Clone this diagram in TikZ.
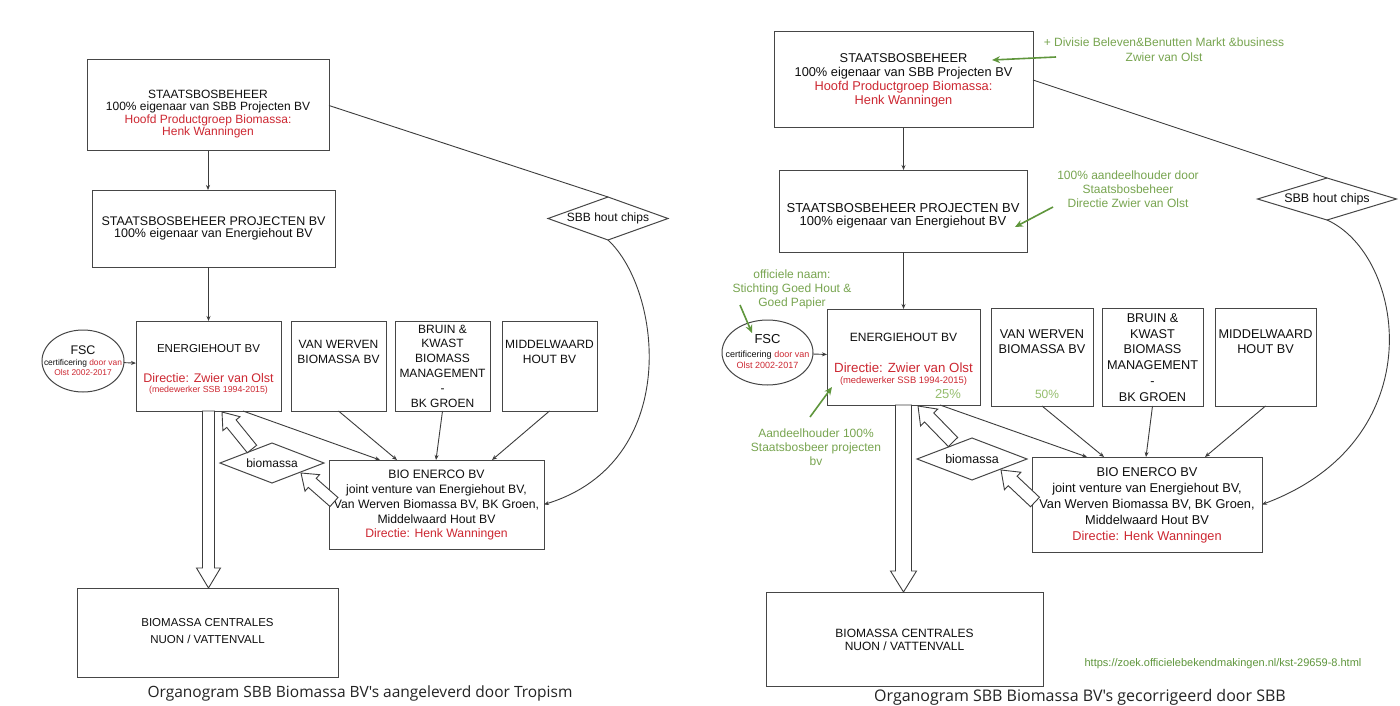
\documentclass[tikz,border=0pt]{standalone}
\usepackage{fontspec}
\setmainfont{Liberation Sans}
\newfontfamily\capfont{Open Sans}
\usetikzlibrary{shapes.geometric,arrows.meta,calc}
\definecolor{boxc}{RGB}{70,70,70}
\definecolor{linec}{RGB}{60,60,60}
\definecolor{txtc}{RGB}{15,15,15}
\definecolor{redc}{RGB}{205,40,50}
\definecolor{garrc}{RGB}{95,150,60}
\definecolor{gtxt}{RGB}{120,165,80}
\definecolor{gpale}{RGB}{150,190,110}
\definecolor{capc}{RGB}{35,35,35}
\newcommand{\myfs}[2]{\fontsize{#1}{#2}\selectfont}
% hollow arrow: #1 tail, #2 tip, #3 shaft half width, #4 head half width, #5 head length
\newcommand{\hollowarr}[5]{%
  \path ($(#2)!#5!(#1)$) coordinate (hac);
  \draw[hollowst] ($(#1)!#3!90:(#2)$) -- ($(hac)!#3!-90:(#1)$) -- ($(hac)!#4!-90:(#1)$) -- (#2)
     -- ($(hac)!#4!90:(#1)$) -- ($(hac)!#3!90:(#1)$) -- ($(#1)!#3!-90:(#2)$) -- cycle;}
\begin{document}
\begin{tikzpicture}[x=1pt,y=-1pt,
  box/.style={draw=boxc, line width=1pt, inner sep=0pt, outer sep=0pt},
  ell/.style={draw=boxc, line width=1pt, ellipse, inner sep=0pt, outer sep=0pt},
  dia/.style={draw=boxc, line width=1pt, diamond, inner sep=0pt, outer sep=0pt},
  t/.style={inner sep=0pt, align=center, text=txtc},
  gt/.style={inner sep=0pt, align=center, text=gtxt},
  ln/.style={draw=linec, line width=0.9pt},
  arr/.style={draw=linec, line width=0.9pt, -{Stealth[length=5pt,width=4pt]}},
  garr/.style={draw=garrc, line width=1.6pt, -{Stealth[length=8pt,width=7pt]}},
  hollowst/.style={draw=linec, line width=0.9pt, fill=white, line join=miter}]
\fill[white] (0,0) rectangle (1400,706);
\useasboundingbox (0,0) rectangle (1400,706);

%================ LEFT =================
\node[box, minimum width=242pt, minimum height=91pt] (sbbL) at (208,105.5) {};
\node[box, minimum width=243pt, minimum height=77pt] (prjL) at (213.5,228.5) {};
\node[box, minimum width=145pt, minimum height=90pt] (ehL) at (208.5,366) {};
\node[box, minimum width=95pt, minimum height=90pt] (vwL) at (338.5,366) {};
\node[box, minimum width=95pt, minimum height=90pt] (bkL) at (442.5,366) {};
\node[box, minimum width=95pt, minimum height=90pt] (mwL) at (549.5,366) {};
\node[box, minimum width=215pt, minimum height=89pt] (bioL) at (436.5,504.5) {};
\node[box, minimum width=261pt, minimum height=89pt] (cenL) at (207.5,632.5) {};
\node[ell, minimum width=82pt, minimum height=62pt] (fscL) at (83,361) {};
\node[dia, minimum width=120pt, minimum height=43pt] (chipsL) at (608,218.5) {};
\node[dia, minimum width=104pt, minimum height=40pt] (bmL) at (272,463) {};

\node[t, font=\myfs{12}{12.5}] (sbbLt) at (208,114) {STAATSBOSBEHEER\\100\% eigenaar van SBB Projecten BV\\\textcolor{redc}{Hoofd Productgroep Biomassa:}\\\textcolor{redc}{Henk Wanningen}};
\node[t, font=\myfs{12.5}{12}] (prjLt) at (213.5,228) {STAATSBOSBEHEER PROJECTEN BV\\100\% eigenaar van Energiehout BV};
\node[t, font=\myfs{11.5}{12}] (ehLt1) at (208.5,349) {ENERGIEHOUT BV};
\node[t, font=\myfs{12.5}{11}, text=redc] (ehLt2) at (208.5,378) {Directie: Zwier van Olst};
\node[t, font=\myfs{8.8}{10}, text=redc] (ehLt3) at (208.5,390) {(medewerker SSB 1994-2015)};
\node[t, font=\myfs{12}{15}] (vwLt) at (338.5,351.5) {VAN WERVEN\\BIOMASSA BV};
\node[t, font=\myfs{12}{14.8}] (bkLt) at (442.5,366) {BRUIN \&\\KWAST\\BIOMASS\\MANAGEMENT\\-\\BK GROEN};
\node[t, font=\myfs{12}{15}] (mwLt) at (549.5,351.5) {MIDDELWAARD\\HOUT BV};
\node[t, font=\myfs{12.2}{14.75}] (bioLt) at (436.5,505.5) {BIO ENERCO BV\\joint venture van Energiehout BV,\\Van Werven Biomassa BV, BK Groen,\\Middelwaard Hout BV\\\textcolor{redc}{Directie: Henk Wanningen}};
\node[t, font=\myfs{11.5}{17}] (cenLt) at (207.5,631.5) {BIOMASSA CENTRALES\\NUON / VATTENVALL};
\node[t, font=\myfs{12.5}{12}] (fscLt1) at (83,350) {FSC};
\node[t, font=\myfs{8.4}{9.5}] (fscLt2) at (83,367.5) {certificering \textcolor{redc}{door van}\\\textcolor{redc}{Olst 2002-2017}};
\node[t, font=\myfs{12}{12}] (chipsLt) at (608,218.5) {SBB hout chips};
\node[t, font=\myfs{12}{12}] (bmLt) at (272,463) {biomassa};

% connectors left
\draw[arr] (sbbL.south) -- (sbbL.south |- prjL.north);
\draw[arr] (ehL.north |- prjL.south) -- (ehL.north);
\draw[arr] (fscL) -- (ehL);
\draw[arr] ($(ehL.south west)+(107,0)$) -- ($(bioL.north west)+(51,0)$);
\draw[arr] (vwL.south) -- ($(bioL.north west)+(68,0)$);
\draw[arr] (bkL.south) -- ($(bioL.north west)+(107,0)$);
\draw[arr] (mwL.south) -- ($(bioL.north west)+(163,0)$);
\draw[ln] (sbbL.east) -- (chipsL.north);
\draw[arr] (chipsL.south) .. controls (662,290) and (682,462) .. (bioL.east);
\coordinate (hL0) at (ehL.south |- cenL.north);
\hollowarr{ehL.south}{hL0}{6pt}{12pt}{20pt}
\coordinate (hL1t) at (252,449);
\coordinate (hL1h) at (222,412);
\hollowarr{hL1t}{hL1h}{6pt}{11pt}{15pt}
\coordinate (hL2t) at (334,502);
\coordinate (hL2h) at (301,473);
\hollowarr{hL2t}{hL2h}{6pt}{11pt}{15pt}

\node[font=\capfont\myfs{15.5}{18}, text=capc, inner sep=0pt] (capL) at (360,693) {Organogram SBB Biomassa BV's aangeleverd door Tropism};

%================ RIGHT =================
\node[box, minimum width=259pt, minimum height=96pt] (sbbR) at (903.5,80) {};
\node[box, minimum width=248pt, minimum height=82pt] (prjR) at (903,211) {};
\node[box, minimum width=153pt, minimum height=96pt] (ehR) at (903.5,357) {};
\node[box, minimum width=102pt, minimum height=98pt] (vwR) at (1042,357) {};
\node[box, minimum width=101pt, minimum height=98pt] (bkR) at (1152.5,357) {};
\node[box, minimum width=101pt, minimum height=98pt] (mwR) at (1265.5,357) {};
\node[box, minimum width=230pt, minimum height=95pt] (bioR) at (1147,504.5) {};
\node[box, minimum width=277pt, minimum height=94pt] (cenR) at (904.5,639) {};
\node[ell, minimum width=91pt, minimum height=65pt] (fscR) at (767.5,352.5) {};
\node[dia, minimum width=139pt, minimum height=42pt] (chipsR) at (1327,199) {};
\node[dia, minimum width=110pt, minimum height=42pt] (bmR) at (972,459) {};

\node[t, font=\myfs{12.8}{14}] (sbbRt) at (903.5,80) {STAATSBOSBEHEER\\100\% eigenaar van SBB Projecten BV\\\textcolor{redc}{Hoofd Productgroep Biomassa:}\\\textcolor{redc}{Henk Wanningen}};
\node[t, font=\myfs{13}{13}] (prjRt) at (903,215.5) {STAATSBOSBEHEER PROJECTEN BV\\100\% eigenaar van Energiehout BV};
\node[t, font=\myfs{12}{12}] (ehRt1) at (903.5,337) {ENERGIEHOUT BV};
\node[t, font=\myfs{13.3}{12}, text=redc] (ehRt2) at (903.5,368) {Directie: Zwier van Olst};
\node[t, font=\myfs{9.4}{10}, text=redc] (ehRt3) at (903.5,381) {(medewerker SSB 1994-2015)};
\node[t, font=\myfs{13}{13}, text=gpale] (ehRt4) at (948,394) {25\%};
\node[t, font=\myfs{12.7}{15}] (vwRt) at (1042,341.5) {VAN WERVEN\\BIOMASSA BV};
\node[t, font=\myfs{12}{12}, text=gpale] (vwRt2) at (1047,394) {50\%};
\node[t, font=\myfs{12.7}{15.8}] (bkRt) at (1152.5,357.5) {BRUIN \&\\KWAST\\BIOMASS\\MANAGEMENT\\-\\BK GROEN};
\node[t, font=\myfs{12.7}{15}] (mwRt) at (1265.5,341.5) {MIDDELWAARD\\HOUT BV};
\node[t, font=\myfs{12.8}{16}] (bioRt) at (1147,505) {BIO ENERCO BV\\joint venture van Energiehout BV,\\Van Werven Biomassa BV, BK Groen,\\Middelwaard Hout BV\\\textcolor{redc}{Directie: Henk Wanningen}};
\node[t, font=\myfs{12}{13}] (cenRt) at (904.5,639.5) {BIOMASSA CENTRALES\\NUON / VATTENVALL};
\node[t, font=\myfs{13}{12}] (fscRt1) at (767.5,339) {FSC};
\node[t, font=\myfs{9}{11}] (fscRt2) at (767.5,359.5) {certificering \textcolor{redc}{door van}\\\textcolor{redc}{Olst 2002-2017}};
\node[t, font=\myfs{12.5}{12}] (chipsRt) at (1327,199) {SBB hout chips};
\node[t, font=\myfs{12.5}{12}] (bmRt) at (972,459) {biomassa};

% green annotations
\node[gt, font=\myfs{12}{15}] (ann1) at (1164,49.5) {+ Divisie Beleven\&Benutten Markt \&business\\Zwier van Olst};
\node[gt, font=\myfs{12}{14}] (ann2) at (1128,189) {100\% aandeelhouder door\\Staatsbosbeheer\\Directie Zwier van Olst};
\node[gt, font=\myfs{12}{14}] (ann3) at (792,289) {officiele naam:\\Stichting Goed Hout \&\\Goed Papier};
\node[gt, font=\myfs{12}{14}] (ann4) at (816,447) {Aandeelhouder 100\%\\Staatsbosbeer projecten\\bv};
\node[gt, font=\myfs{11}{12}, text=garrc] (url) at (1223,664) {https://zoek.officielebekendmakingen.nl/kst-29659-8.html};

\coordinate (g1t) at (1056,57);  \coordinate (g1h) at (992,60);
\coordinate (g2t) at (1053,207); \coordinate (g2h) at (1015,227);
\coordinate (g3t) at (740,305);  \coordinate (g3h) at (752,333);
\coordinate (g4t) at (810,417);  \coordinate (g4h) at (832,387);
\draw[garr] (g1t) -- (g1h);
\draw[garr] (g2t) -- (g2h);
\draw[garr] (g3t) -- (g3h);
\draw[garr] (g4t) -- (g4h);

% connectors right
\draw[arr] (sbbR.south) -- (sbbR.south |- prjR.north);
\draw[arr] (ehR.north |- prjR.south) -- (ehR.north);
\draw[arr] (fscR) -- (ehR);
\draw[arr] ($(ehR.south west)+(113,0)$) -- ($(bioR.north west)+(55,0)$);
\draw[arr] (vwR.south) -- ($(bioR.north west)+(72,0)$);
\draw[arr] (bkR.south) -- ($(bioR.north west)+(114,0)$);
\draw[arr] (mwR.south) -- ($(bioR.north west)+(173,0)$);
\draw[ln] (sbbR.east) -- (chipsR.north);
\draw[arr] (chipsR.south) .. controls (1405,255) and (1435,440) .. (bioR.east);
\coordinate (hR0) at (ehR.south |- cenR.north);
\hollowarr{ehR.south}{hR0}{8pt}{13pt}{21pt}
\coordinate (hR1t) at (953,442);
\coordinate (hR1h) at (918,406);
\hollowarr{hR1t}{hR1h}{6.5pt}{12pt}{16pt}
\coordinate (hR2t) at (1035,502);
\coordinate (hR2h) at (1001,470);
\hollowarr{hR2t}{hR2h}{6.5pt}{12pt}{16pt}

\node[font=\capfont\myfs{16}{18}, text=capc, inner sep=0pt] (capR) at (1080,697) {Organogram SBB Biomassa BV's gecorrigeerd door SBB};
\end{tikzpicture}
\end{document}
